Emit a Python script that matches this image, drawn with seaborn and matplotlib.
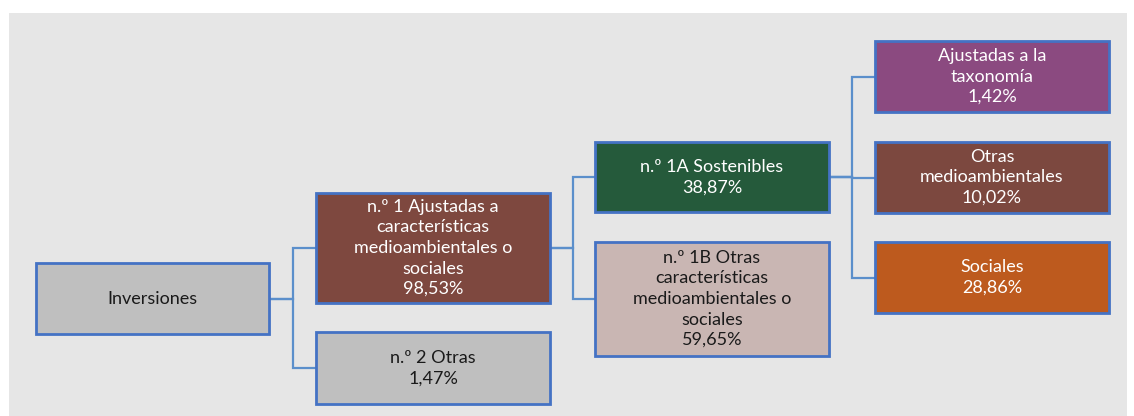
import matplotlib.pyplot as plt
import seaborn as sns
from matplotlib.patches import Rectangle

# Node data
names = ["Inversiones",
         "n.º 1 Ajustadas a\ncaracterísticas\nmedioambientales o\nsociales",
         "n.º 2 Otras",
         "n.º 1A Sostenibles",
         "n.º 1B Otras\ncaracterísticas\nmedioambientales o\nsociales",
         "Ajustadas a la\ntaxonomía",
         "Otras\nmedioambientales",
         "Sociales"]
shares = [None, 98.53, 1.47, 38.87, 59.65, 1.42, 10.02, 28.86]
parents = [None, 0, 0, 1, 1, 3, 3, 3]

# Layout (pixels): left, top, width, height
boxes = [(36, 263, 233, 71),
         (316, 193, 234, 110),
         (316, 332, 234, 72),
         (595, 142, 234, 70),
         (595, 242, 234, 114),
         (875, 41, 234, 71),
         (875, 142, 234, 71),
         (875, 242, 234, 71)]
fills = ["#bfbfbf", "#7e483f", "#bfbfbf", "#255a3b", "#c9b6b3",
         "#8b4a80", "#7c483f", "#bd5a1e"]
text_colors = ["#1a1a1a", "white", "#1a1a1a", "white", "#1a1a1a",
               "white", "white", "white"]

sns.set_theme(style="white")
plt.rcParams['font.family'] = ['Lato', 'DejaVu Sans']

fig = plt.figure(figsize=(11.34, 4.16), dpi=100)
ax = fig.add_axes([0, 0, 1, 1])
ax.set_xlim(0, 1134)
ax.set_ylim(416, 0)
ax.axis("off")

ax.add_patch(Rectangle((9, 13), 1118, 410, facecolor="#e6e6e6",
                       edgecolor="none", zorder=0))

# Connectors: elbow from parent right edge to each child left edge
line_col = "#5b8fcb"
for i, p in enumerate(parents):
    if p is None:
        continue
    px, py, pw, ph = boxes[p]
    cx, cy, cw, ch = boxes[i]
    x0 = px + pw
    y0 = py + ph / 2
    xm = x0 + (cx - x0) / 2
    y1 = cy + ch / 2
    ax.plot([x0, xm, xm, cx], [y0, y0, y1, y1], color=line_col, lw=1.6,
            zorder=1, solid_joinstyle="miter")

for i, name in enumerate(names):
    x, y, w, h = boxes[i]
    ax.add_patch(Rectangle((x, y), w, h, facecolor=fills[i],
                           edgecolor="#4472c4", lw=2, zorder=2))
    label = name
    if shares[i] is not None:
        label += "\n" + f"{shares[i]:.2f}".replace(".", ",") + "%"
    ax.text(x + w / 2, y + h / 2, label, ha="center", va="center",
            fontsize=13, color=text_colors[i], linespacing=1.35, zorder=3)

fig.savefig("out.png", dpi=100)
